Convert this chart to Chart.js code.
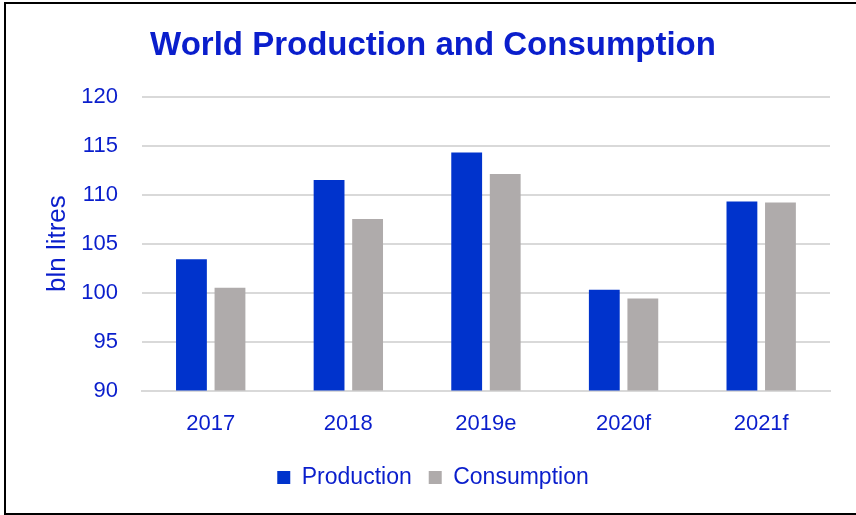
<!DOCTYPE html>
<html lang="en">
<head>
  <meta charset="UTF-8" />
  <title>World Production and Consumption</title>
  <script src="https://cdn.jsdelivr.net/npm/chart.js"></script>
  <style>
    html, body {
      margin: 0;
      padding: 0;
      background: #fff;
      overflow: hidden;
    }
    #wrap {
      position: relative;
      width: 856px;
      height: 515px;
    }
    #frame {
      position: absolute;
      left: 4px;
      top: 2px;
      width: 870px;
      height: 509px;
      border: 2px solid #000;
      pointer-events: none;
    }
  </style>
</head>
<body>
  <div id="wrap">
    <canvas id="barChart" width="856" height="515"></canvas>
    <div id="frame"></div>
  </div>

  <script>
    const years = ["2017", "2018", "2019e", "2020f", "2021f"];
    const production = [103.4, 111.5, 114.3, 100.3, 109.3];
    const consumption = [100.5, 107.5, 112.1, 99.4, 109.2];
    const yTicks = [90, 95, 100, 105, 110, 115, 120];

    const BLUE_TEXT = "#0a1ecc";
    const FONT = "'Liberation Sans', Arial, sans-serif";

    new Chart(document.getElementById("barChart"), {
      type: 'bar',
      data: {
        labels: years,
        datasets: [{
          label: "Production",
          data: production,
          backgroundColor: "#0033cc",
          categoryPercentage: 0.56,
          barPercentage: 0.8
        }, {
          label: "Consumption",
          data: consumption,
          backgroundColor: "#afabab",
          categoryPercentage: 0.56,
          barPercentage: 0.8
        }]
      },
      options: {
        responsive: false,
        animation: false,
        layout: { padding: { left: 36, right: 26, top: 26, bottom: 16 } },
        plugins: {
          title: {
            display: true,
            text: "World Production and Consumption",
            color: BLUE_TEXT,
            font: { family: FONT, size: 33, weight: 'bold' },
            padding: { top: 0, bottom: 31 }
          },
          legend: {
            position: 'bottom',
            labels: {
              color: BLUE_TEXT,
              font: { family: FONT, size: 23 },
              boxWidth: 13,
              boxHeight: 13,
              padding: 17
            }
          },
          tooltip: { enabled: false }
        },
        scales: {
          x: {
            grid: { display: false },
            border: { color: "#d9d9d9", width: 2 },
            ticks: {
              color: BLUE_TEXT,
              font: { family: FONT, size: 22 },
              padding: 12
            }
          },
          y: {
            min: 90,
            max: 120,
            afterBuildTicks: axis => {
              axis.ticks = yTicks.map(v => ({ value: v }));
            },
            grid: { color: "#d9d9d9", lineWidth: 2, drawTicks: false },
            border: { display: false },
            title: {
              display: true,
              text: "bln litres",
              color: BLUE_TEXT,
              font: { family: FONT, size: 26 },
              padding: { top: 6, bottom: -16 }
            },
            ticks: {
              color: BLUE_TEXT,
              font: { family: FONT, size: 22 },
              padding: 24
            }
          }
        }
      }
    });
  </script>
</body>
</html>
